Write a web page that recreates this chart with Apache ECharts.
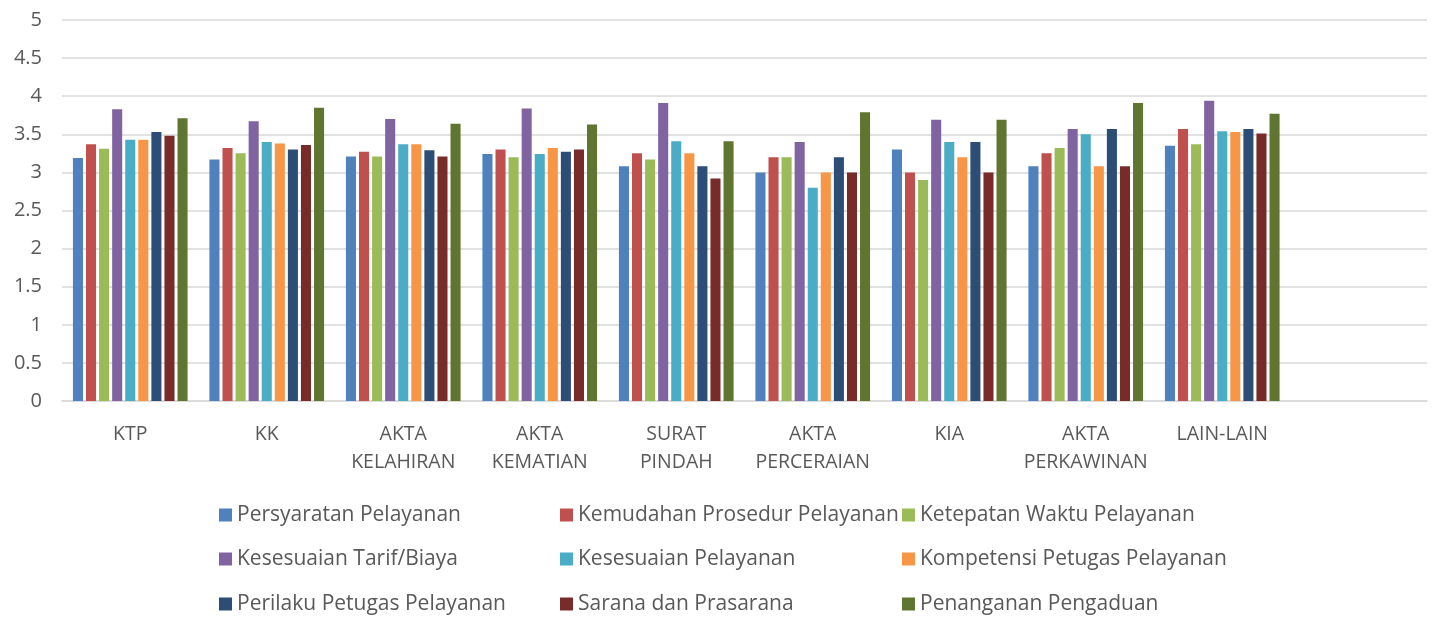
<!DOCTYPE html>
<html><head><meta charset="utf-8">
<script src="https://cdn.jsdelivr.net/npm/echarts@6/dist/echarts.min.js"></script>
<style>html,body{margin:0;padding:0;background:#fff}#c{width:1437px;height:621px}</style>
</head><body><div id="c"></div>
<script>
var categories = ['KTP','KK','AKTA\nKELAHIRAN','AKTA\nKEMATIAN','SURAT\nPINDAH','AKTA\nPERCERAIAN','KIA','AKTA\nPERKAWINAN','LAIN-LAIN',''];
var seriesNames = ['Persyaratan Pelayanan','Kemudahan Prosedur Pelayanan','Ketepatan Waktu Pelayanan','Kesesuaian Tarif/Biaya','Kesesuaian Pelayanan','Kompetensi Petugas Pelayanan','Perilaku Petugas Pelayanan','Sarana dan Prasarana','Penanganan Pengaduan'];
var colors = ['#4F81BD','#C0504D','#9BBB59','#8064A2','#4BACC6','#F79646','#2C4D75','#772C2A','#5F7530'];
var persyaratan = [3.19,3.17,3.21,3.24,3.08,3.00,3.30,3.08,3.35];
var kemudahan   = [3.37,3.32,3.27,3.30,3.25,3.20,3.00,3.25,3.57];
var ketepatan   = [3.31,3.25,3.21,3.20,3.17,3.20,2.90,3.32,3.37];
var tarif       = [3.83,3.67,3.70,3.84,3.91,3.40,3.69,3.57,3.94];
var kesesuaian  = [3.43,3.40,3.37,3.24,3.41,2.80,3.40,3.50,3.54];
var kompetensi  = [3.43,3.38,3.37,3.32,3.25,3.00,3.20,3.08,3.53];
var perilaku    = [3.53,3.30,3.29,3.27,3.08,3.20,3.40,3.57,3.57];
var sarana      = [3.48,3.36,3.21,3.30,2.92,3.00,3.00,3.08,3.51];
var pengaduan   = [3.71,3.85,3.64,3.63,3.41,3.79,3.69,3.91,3.77];
var allData = [persyaratan,kemudahan,ketepatan,tarif,kesesuaian,kompetensi,perilaku,sarana,pengaduan];
var yTicks = {min:0, max:5, interval:0.5};

var font = 'Open Sans';
var txt = '#595959';
var series = allData.map(function(d,i){
  return {name:seriesNames[i], type:'bar', data:d, barGap:'30%', barCategoryGap:'16%',
    itemStyle:{color:colors[i]}};
});
var colX = [219, 560, 902];
var rowY = [515, 559, 604];
var legends = seriesNames.map(function(n,i){
  var r = Math.floor(i/3), c = i%3;
  return {orient:'horizontal', left:colX[c], top:rowY[r]-12, padding:0,
    itemWidth:13, itemHeight:13, icon:'rect', data:[n],
    textStyle:{fontFamily:font, fontSize:21, color:txt, lineHeight:24}};
});
var chart = echarts.init(document.getElementById('c'));
chart.setOption({
  animation:false,
  color:colors,
  grid:{left:62, right:10, top:20, bottom:220, containLabel:false},
  xAxis:{type:'category', data:categories,
    axisLine:{lineStyle:{color:'#D9D9D9', width:1.5}}, axisTick:{show:false},
    axisLabel:{fontFamily:font, fontSize:19.5, color:txt, lineHeight:28, margin:19, interval:0}},
  yAxis:{type:'value', min:yTicks.min, max:yTicks.max, interval:yTicks.interval,
    axisLine:{show:false}, axisTick:{show:false},
    splitLine:{lineStyle:{color:'#D9D9D9', width:1.5}},
    axisLabel:{fontFamily:font, fontSize:20, color:txt, margin:20}},
  legend:legends,
  series:series
});
</script></body></html>
